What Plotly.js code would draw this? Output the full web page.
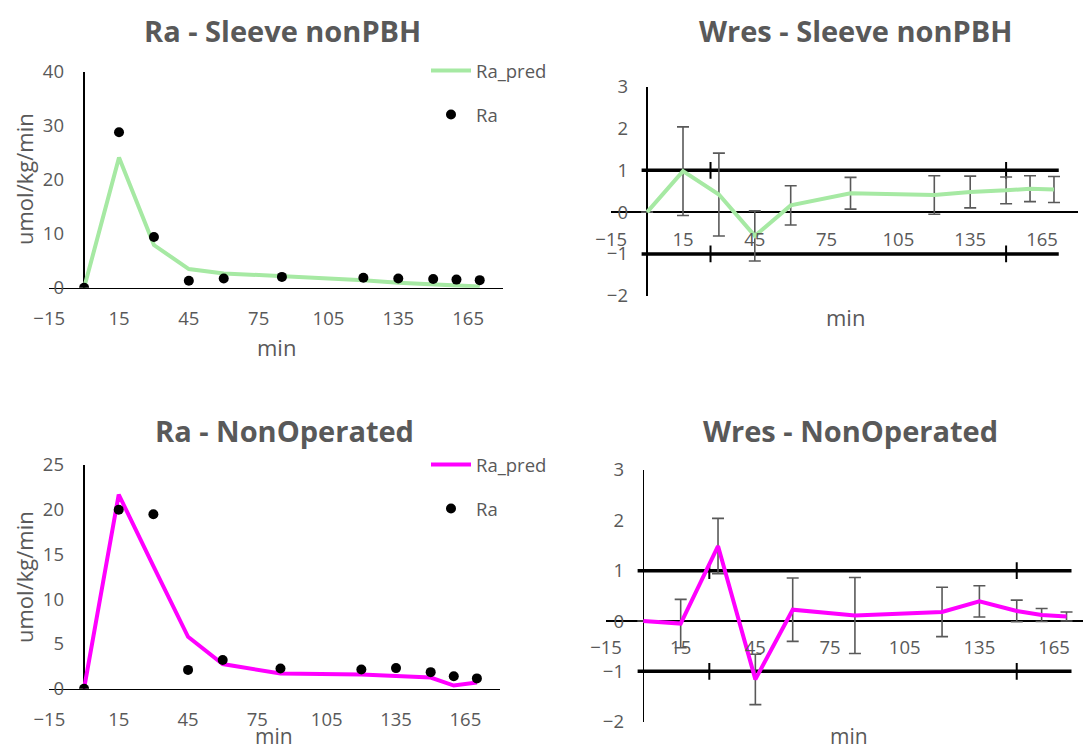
<!DOCTYPE html>
<html>
<head>
<meta charset="utf-8">
<script src="https://cdn.plot.ly/plotly-3.0.1.min.js"></script>
<style>
  html, body { margin: 0; padding: 0; background: #fff; }
  #chart { width: 1090px; height: 751px; }
</style>
</head>
<body>
<div id="chart"></div>
<script>
// Sampling times (min)
const sampleTimes = [0, 15, 30, 45, 60, 85, 120, 135, 150, 160, 170];

// Sleeve nonPBH group
const sleeveRa      = [0, 28.8, 9.4, 1.3, 1.7, 2.0, 1.85, 1.7, 1.6, 1.5, 1.4];
const sleeveRaPred  = [0, 24.1, 7.9, 3.45, 2.65, 2.2, 1.4, 0.9, 0.6, 0.35, 0.2];
const sleeveWres    = [0, 0.98, 0.42, -0.57, 0.16, 0.45, 0.41, 0.48, 0.52, 0.56, 0.54];
const sleeveWresErr = [0, 1.06, 0.99, 0.6, 0.47, 0.38, 0.46, 0.38, 0.32, 0.31, 0.31];

// NonOperated group
const nonOpRa      = [0, 20.0, 19.5, 2.1, 3.2, 2.25, 2.15, 2.3, 1.85, 1.4, 1.15];
const nonOpRaPred  = [0, 21.7, 13.7, 5.8, 2.75, 1.7, 1.6, 1.45, 1.25, 0.35, 0.7];
const nonOpWres    = [0, -0.05, 1.49, -1.16, 0.225, 0.11, 0.18, 0.39, 0.2, 0.12, 0.09];
const nonOpWresErr = [0, 0.48, 0.55, 0.5, 0.63, 0.755, 0.49, 0.31, 0.215, 0.13, 0.09];

// +/-1 reference bands on the weighted-residual panels
const bandLevels = [1, -1];
const bandX      = [-2.3, 172];
const bandTickX  = [26.5, 150];

// Axis tick settings
const timeTick0 = -15;
const timeDtick = 30;

const GREEN = '#a6e9a3';
const MAGENTA = '#ff00ff';
const GREY = '#595959';
const FONT = '"Open Sans", Lato, sans-serif';
const W = 1090, H = 751;

const px = v => v / W;          // horizontal pixel -> paper
const py = v => 1 - v / H;      // vertical pixel -> paper

const traces = [];

function raTraces(xa, ya, pred, obs, color, legendId) {
  traces.push({
    x: sampleTimes, y: pred, xaxis: xa, yaxis: ya,
    type: 'scatter', mode: 'lines', name: 'Ra_pred',
    line: { color: color, width: 4 },
    legend: legendId, legendgroup: legendId + 'pred'
  });
  traces.push({
    x: sampleTimes, y: obs, xaxis: xa, yaxis: ya,
    type: 'scatter', mode: 'markers', name: 'Ra',
    marker: { color: '#000', size: 10 },
    legend: legendId, legendgroup: legendId + 'obs'
  });
}

function wresTraces(xa, ya, wres, err, color) {
  bandLevels.forEach(level => {
    traces.push({
      x: bandX, y: bandX.map(() => level), xaxis: xa, yaxis: ya,
      type: 'scatter', mode: 'lines', showlegend: false, hoverinfo: 'skip',
      line: { color: '#000', width: 3.5 }
    });
    traces.push({
      x: bandTickX, y: bandTickX.map(() => level), xaxis: xa, yaxis: ya,
      type: 'scatter', mode: 'markers', showlegend: false, hoverinfo: 'skip',
      marker: { symbol: 'line-ns', size: 12, line: { color: '#000', width: 2 } }
    });
  });
  traces.push({
    x: sampleTimes, y: wres, xaxis: xa, yaxis: ya,
    type: 'scatter', mode: 'lines', showlegend: false,
    line: { color: color, width: 4 },
    error_y: { type: 'data', array: err, symmetric: true, color: GREY, thickness: 1.6, width: 6 }
  });
}

raTraces('x', 'y', sleeveRaPred, sleeveRa, GREEN, 'legend');
wresTraces('x2', 'y2', sleeveWres, sleeveWresErr, GREEN);
raTraces('x3', 'y3', nonOpRaPred, nonOpRa, MAGENTA, 'legend2');
wresTraces('x4', 'y4', nonOpWres, nonOpWresErr, MAGENTA);

const tickFont = { family: FONT, size: 18.5, color: GREY };

function timeAxis(domain, range, opts) {
  return Object.assign({
    domain: domain, range: range,
    tickmode: 'linear', tick0: timeTick0, dtick: timeDtick,
    showgrid: false, ticks: '', tickfont: tickFont,
    ticklabelstandoff: 14,
    zeroline: true, zerolinecolor: '#000', zerolinewidth: 1.5,
    fixedrange: true
  }, opts);
}

function valueAxis(domain, range, dtick, position, opts) {
  return Object.assign({
    domain: domain, range: range,
    tickmode: 'linear', tick0: 0, dtick: dtick,
    anchor: 'free', position: position,
    showgrid: false, ticks: '', tickfont: tickFont,
    showline: false, fixedrange: true
  }, opts);
}

const legendStyle = {
  xanchor: 'left', yanchor: 'top',
  bgcolor: 'rgba(0,0,0,0)', font: { family: FONT, size: 18.5, color: GREY },
  tracegroupgap: 17, traceorder: 'grouped', itemwidth: 40
};

const layout = {
  width: W, height: H,
  margin: { l: 0, r: 0, t: 0, b: 0 },
  paper_bgcolor: '#fff', plot_bgcolor: 'rgba(0,0,0,0)',
  font: { family: FONT, color: GREY },
  showlegend: true,

  xaxis: timeAxis([px(49.2), px(503)], [-15, 180],
    { anchor: 'y', showline: true, linecolor: '#000', linewidth: 1.5 }),
  yaxis: valueAxis([py(287.7), py(71.7)], [0, 40], 10, px(64), { zeroline: false }),

  xaxis2: timeAxis([px(611.2), px(1077.9)], [-15, 180],
    { anchor: 'free', position: py(212), showline: false }),
  yaxis2: valueAxis([py(295.7), py(86.7)], [-2, 3], 1, px(628),
    { zeroline: true, zerolinecolor: '#000', zerolinewidth: 1.5 }),

  xaxis3: timeAxis([px(49.4), px(500)], [-15, 180],
    { anchor: 'y3', showline: true, linecolor: '#000', linewidth: 1.5 }),
  yaxis3: valueAxis([py(688.7), py(465)], [0, 25], 5, px(64), { zeroline: false }),

  xaxis4: timeAxis([px(606), px(1082.7)], [-15, 176.5],
    { anchor: 'free', position: py(620.7), showline: false }),
  yaxis4: valueAxis([py(721.7), py(470)], [-2, 3], 1, px(624),
    { zeroline: true, zerolinecolor: '#000', zerolinewidth: 1.5 }),

  legend: Object.assign({ x: px(426), y: py(52) }, legendStyle),
  legend2: Object.assign({ x: px(426), y: py(446) }, legendStyle),

  annotations: []
};

const titleFont = { family: FONT, size: 29, color: GREY, weight: 'bold' };
const axisTitleFont = { family: FONT, size: 22, color: GREY };
const lowAxisTitleFont = { family: FONT, size: 21, color: GREY };

function addText(text, x, y, font, angle) {
  layout.annotations.push({
    text: text, xref: 'paper', yref: 'paper', x: px(x), y: py(y),
    xanchor: 'center', yanchor: 'middle', showarrow: false,
    font: font, textangle: angle || 0
  });
}

addText('<b>Ra - Sleeve nonPBH</b>', 282, 31, titleFont);
addText('<b>Wres - Sleeve nonPBH</b>', 855, 31, titleFont);
addText('<b>Ra - NonOperated</b>', 284, 430, titleFont);
addText('<b>Wres - NonOperated</b>', 850, 430, titleFont);

addText('umol/kg/min', 24, 179, axisTitleFont, -90);
addText('umol/kg/min', 24, 577, axisTitleFont, -90);
addText('min', 276, 347, axisTitleFont);
addText('min', 845, 317, axisTitleFont);
addText('min', 274, 736, lowAxisTitleFont);
addText('min', 849, 736, lowAxisTitleFont);

Plotly.newPlot('chart', traces, layout, { staticPlot: true, displayModeBar: false });
</script>
</body>
</html>
